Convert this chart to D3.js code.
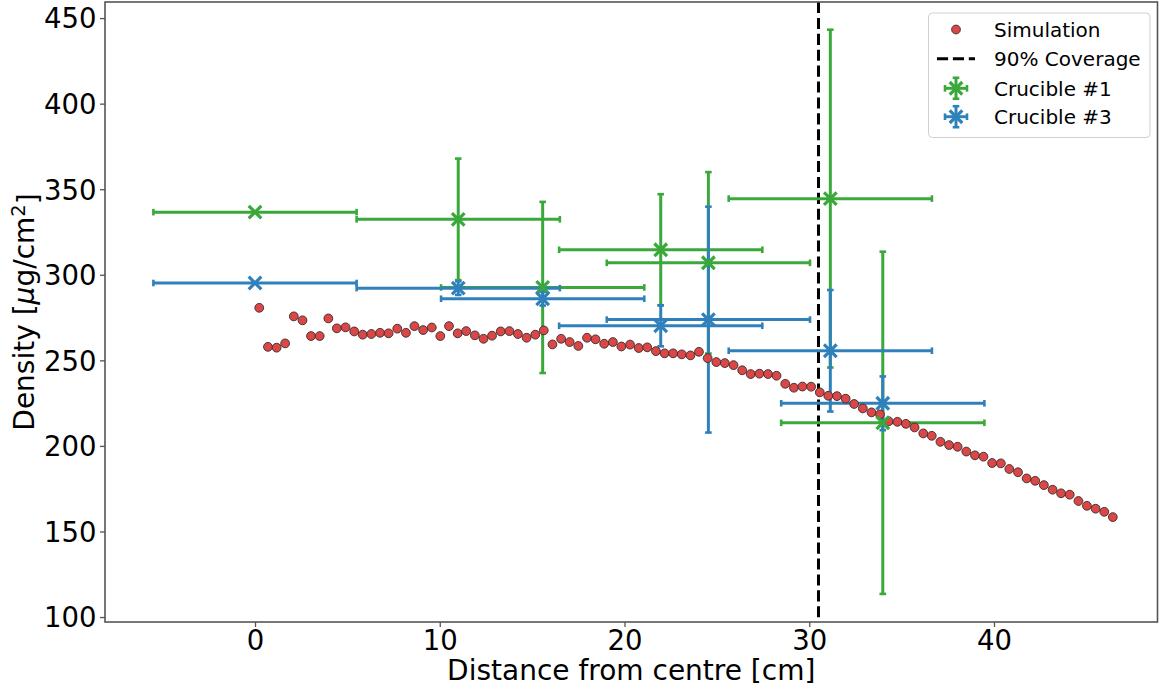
<!DOCTYPE html>
<html>
<head>
<meta charset="utf-8">
<script src="https://cdn.jsdelivr.net/npm/d3@7"></script>
<style>
  body { margin: 0; background: #fff; }
  svg { display: block; font-family: "DejaVu Sans", sans-serif; }
</style>
</head>
<body>
<div id="chart"></div>
<script>
// Simulated density along the radius
const simDistance = [
  0.23, 0.70, 1.17, 1.63, 2.10, 2.57, 3.03, 3.50, 3.97, 4.43,
  4.90, 5.37, 5.83, 6.30, 6.77, 7.23, 7.70, 8.17, 8.63, 9.10,
  9.57, 10.03, 10.50, 10.97, 11.43, 11.90, 12.37, 12.83, 13.30, 13.77,
  14.23, 14.70, 15.17, 15.63, 16.10, 16.57, 17.03, 17.50, 17.97, 18.43,
  18.90, 19.37, 19.83, 20.30, 20.77, 21.23, 21.70, 22.17, 22.63, 23.10,
  23.57, 24.03, 24.50, 24.97, 25.43, 25.90, 26.37, 26.83, 27.30, 27.77,
  28.23, 28.70, 29.17, 29.63, 30.10, 30.57, 31.03, 31.50, 31.97, 32.43,
  32.90, 33.37, 33.83, 34.30, 34.77, 35.23, 35.70, 36.17, 36.63, 37.10,
  37.57, 38.03, 38.50, 38.97, 39.43, 39.90, 40.37, 40.83, 41.30, 41.77,
  42.23, 42.70, 43.17, 43.63, 44.10, 44.57, 45.03, 45.50, 45.97, 46.43
];
const simDensity = [
  280.7, 257.9, 257.4, 259.9, 275.7, 273.4, 264.2, 264.2, 274.5, 268.7,
  269.3, 266.9, 265.0, 265.4, 266.1, 265.8, 268.5, 266.1, 270.0, 267.7,
  269.2, 264.2, 270.0, 265.8, 267.1, 264.6, 262.6, 264.4, 266.9, 267.1,
  265.4, 263.2, 265.0, 267.5, 259.3, 262.6, 260.7, 258.4, 263.2, 262.3,
  259.7, 260.7, 258.1, 259.2, 257.2, 257.6, 255.4, 254.1, 254.1, 253.5,
  252.9, 255.0, 251.3, 249.0, 248.4, 247.2, 244.2, 242.0, 242.2, 242.0,
  241.0, 236.3, 234.0, 234.7, 234.6, 231.3, 229.3, 229.1, 227.6, 224.5,
  221.9, 219.6, 218.4, 214.4, 214.1, 212.9, 210.8, 207.3, 205.9, 202.4,
  200.5, 199.5, 196.7, 194.5, 193.7, 190.0, 189.8, 186.5, 184.6, 181.0,
  179.6, 177.1, 174.4, 172.3, 171.5, 167.8, 165.0, 163.3, 161.5, 158.4
];

// Crucible measurements
const crucibleDistance = [0, 11, 15.57, 21.96, 24.54, 31.14, 33.98];
const crucibleDistanceErr = [5.5, 5.5, 5.5, 5.5, 5.5, 5.5, 5.5];
const c1Density = [336.6, 332.4, 292.6, 314.6, 307.0, 344.5, 213.5];
const c1DensityErr = [0, 35.5, 50, 32.5, 53, 98.7, 100];
const c3Density = [295.2, 292.2, 286.0, 270.2, 273.8, 255.6, 224.9];
const c3DensityErr = [0, 4, 4, 12, 66, 35.5, 15.7];

const coverage = 30.5;
const xTicks = [0, 10, 20, 30, 40];
const yTicks = [100, 150, 200, 250, 300, 350, 400, 450];

const width = 1159, height = 689;
const plot = { left: 105, right: 1157.5, top: 2, bottom: 622 };

const red = '#db4747', green = '#3aa83a', blue = '#2f80bb';

const x = d3.scaleLinear().domain([-8.12, 48.85]).range([plot.left, plot.right]);
const y = d3.scaleLinear().domain([97.1, 459.4]).range([plot.bottom, plot.top]);

const svg = d3.select('#chart').append('svg')
    .attr('width', width)
    .attr('height', height);

// Axes
const axisColor = '#555';
const xAxis = svg.append('g')
    .attr('transform', `translate(0,${plot.bottom})`)
    .call(d3.axisBottom(x).tickValues(xTicks).tickSize(5).tickPadding(3).tickSizeOuter(0));
const yAxis = svg.append('g')
    .attr('transform', `translate(${plot.left},0)`)
    .call(d3.axisLeft(y).tickValues(yTicks).tickSize(5).tickPadding(3.5).tickSizeOuter(0));

[xAxis, yAxis].forEach(a => {
    a.select('.domain').remove();
    a.selectAll('.tick line').attr('stroke', axisColor).attr('stroke-width', 1.3);
    a.selectAll('.tick text')
        .attr('fill', '#000')
        .style('font-size', '27.5px')
        .style('font-family', '"DejaVu Sans", sans-serif');
});
yAxis.selectAll('.tick text').attr('dy', '0.36em');

// Axis labels
svg.append('text')
    .attr('x', (plot.left + plot.right) / 2)
    .attr('y', 680)
    .attr('text-anchor', 'middle')
    .style('font-size', '28px')
    .text('Distance from centre [cm]');

const ylab = svg.append('text')
    .attr('transform', `translate(34,${(plot.top + plot.bottom) / 2}) rotate(-90)`)
    .attr('text-anchor', 'middle')
    .style('font-size', '28px');
ylab.append('tspan').text('Density [');
ylab.append('tspan').style('font-style', 'italic').text('μ');
ylab.append('tspan').text('g/cm');
ylab.append('tspan').attr('dy', '-0.45em').style('font-size', '19.5px').text('2');
ylab.append('tspan').attr('dy', '0.45em').text(']');

// 90% coverage line
svg.append('line')
    .attr('x1', x(coverage)).attr('x2', x(coverage))
    .attr('y1', plot.top).attr('y2', plot.bottom)
    .attr('stroke', '#000')
    .attr('stroke-width', 3)
    .attr('stroke-dasharray', '11.1,4.8');

// Error bars (lines + caps)
const capHalf = 3.3;
function errorBars(xs, ys, xerr, yerr, color) {
    const pts = xs.map((d, i) => ({ x: d, y: ys[i], xe: xerr[i], ye: yerr[i] }));
    const g = svg.append('g').attr('stroke', color);

    g.selectAll('line.h').data(pts).join('line')
        .attr('x1', d => x(d.x - d.xe)).attr('x2', d => x(d.x + d.xe))
        .attr('y1', d => y(d.y)).attr('y2', d => y(d.y))
        .attr('stroke-width', 3);
    g.selectAll('line.v').data(pts.filter(d => d.ye > 0)).join('line')
        .attr('x1', d => x(d.x)).attr('x2', d => x(d.x))
        .attr('y1', d => y(d.y - d.ye)).attr('y2', d => y(d.y + d.ye))
        .attr('stroke-width', 3);

    // caps
    const hcaps = pts.flatMap(d => [d.x - d.xe, d.x + d.xe].map(v => ({ x: v, y: d.y })));
    g.selectAll('line.hc').data(hcaps).join('line')
        .attr('x1', d => x(d.x)).attr('x2', d => x(d.x))
        .attr('y1', d => y(d.y) - capHalf).attr('y2', d => y(d.y) + capHalf)
        .attr('stroke-width', 2.6);
    const vcaps = pts.filter(d => d.ye > 0)
        .flatMap(d => [d.y - d.ye, d.y + d.ye].map(v => ({ x: d.x, y: v })));
    g.selectAll('line.vc').data(vcaps).join('line')
        .attr('x1', d => x(d.x) - capHalf).attr('x2', d => x(d.x) + capHalf)
        .attr('y1', d => y(d.y)).attr('y2', d => y(d.y))
        .attr('stroke-width', 2.6);
    return pts;
}

const c1Pts = errorBars(crucibleDistance, c1Density, crucibleDistanceErr, c1DensityErr, green);
const c3Pts = errorBars(crucibleDistance, c3Density, crucibleDistanceErr, c3DensityErr, blue);

// Simulation points
svg.append('g').selectAll('circle')
    .data(simDistance.map((d, i) => ({ x: d, y: simDensity[i] })))
    .join('circle')
    .attr('cx', d => x(d.x))
    .attr('cy', d => y(d.y))
    .attr('r', 4.4)
    .attr('fill', red)
    .attr('stroke', '#3a2a2a')
    .attr('stroke-width', 0.9);

// x markers
const xMark = 'M-6.3,-6.3L6.3,6.3M-6.3,6.3L6.3,-6.3';
[[c1Pts, green], [c3Pts, blue]].forEach(([pts, color]) => {
    svg.append('g').selectAll('path').data(pts).join('path')
        .attr('transform', d => `translate(${x(d.x)},${y(d.y)})`)
        .attr('d', xMark)
        .attr('fill', 'none')
        .attr('stroke', color)
        .attr('stroke-width', 3.2);
});

// Legend
const legend = svg.append('g').attr('transform', 'translate(928.5,13)');
legend.append('rect')
    .attr('width', 221.5).attr('height', 124.5)
    .attr('rx', 4)
    .attr('fill', '#fff').attr('fill-opacity', 0.8)
    .attr('stroke', '#d0d0d0').attr('stroke-width', 1);

const rowY = [16.5, 45.7, 75.3, 103.7];
const hx = 27.5; // handle centre
const labels = ['Simulation', '90% Coverage', 'Crucible #1', 'Crucible #3'];

legend.append('circle')
    .attr('cx', hx).attr('cy', rowY[0]).attr('r', 4.4)
    .attr('fill', red).attr('stroke', '#3a2a2a').attr('stroke-width', 0.9);
legend.append('line')
    .attr('x1', hx - 19).attr('x2', hx + 19)
    .attr('y1', rowY[1]).attr('y2', rowY[1])
    .attr('stroke', '#000').attr('stroke-width', 3)
    .attr('stroke-dasharray', '11.1,4.8');

[[rowY[2], green], [rowY[3], blue]].forEach(([cy, color]) => {
    const h = legend.append('g').attr('transform', `translate(${hx},${cy})`).attr('stroke', color);
    h.append('line').attr('x1', -11).attr('x2', 11).attr('stroke-width', 3);
    h.append('line').attr('y1', -10.5).attr('y2', 10.5).attr('stroke-width', 3);
    h.append('line').attr('x1', -11).attr('x2', -11).attr('y1', -capHalf).attr('y2', capHalf).attr('stroke-width', 2.6);
    h.append('line').attr('x1', 11).attr('x2', 11).attr('y1', -capHalf).attr('y2', capHalf).attr('stroke-width', 2.6);
    h.append('line').attr('y1', -10.5).attr('y2', -10.5).attr('x1', -capHalf).attr('x2', capHalf).attr('stroke-width', 2.6);
    h.append('line').attr('y1', 10.5).attr('y2', 10.5).attr('x1', -capHalf).attr('x2', capHalf).attr('stroke-width', 2.6);
    h.append('path').attr('d', xMark).attr('fill', 'none').attr('stroke-width', 3.2);
});

legend.selectAll('text.lab').data(labels).join('text')
    .attr('x', 65.5)
    .attr('y', (d, i) => rowY[i] + 7.2)
    .style('font-size', '20px')
    .text(d => d);

// Frame
svg.append('rect')
    .attr('x', plot.left).attr('y', plot.top)
    .attr('width', plot.right - plot.left)
    .attr('height', plot.bottom - plot.top)
    .attr('fill', 'none')
    .attr('stroke', axisColor)
    .attr('stroke-width', 1.6);
</script>
</body>
</html>
